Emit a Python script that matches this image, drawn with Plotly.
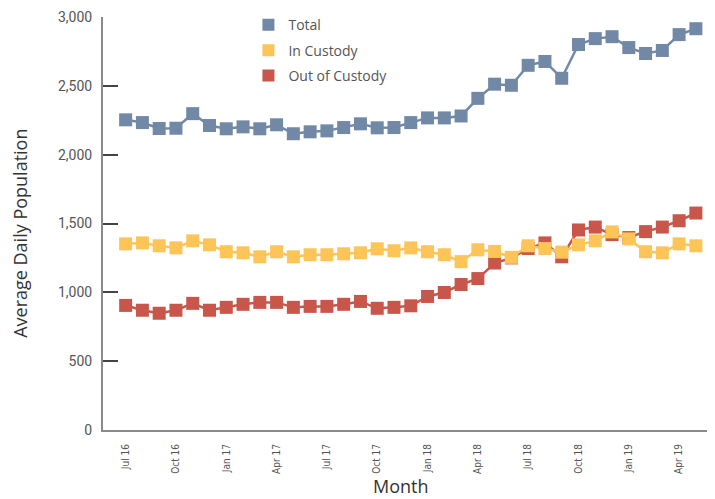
import plotly.graph_objects as go

months = ["Jul 16","Aug 16","Sep 16","Oct 16","Nov 16","Dec 16",
          "Jan 17","Feb 17","Mar 17","Apr 17","May 17","Jun 17",
          "Jul 17","Aug 17","Sep 17","Oct 17","Nov 17","Dec 17",
          "Jan 18","Feb 18","Mar 18","Apr 18","May 18","Jun 18",
          "Jul 18","Aug 18","Sep 18","Oct 18","Nov 18","Dec 18",
          "Jan 19","Feb 19","Mar 19","Apr 19","May 19"]
tick_labels = months[::3]

total = [2253,2233,2190,2192,2298,2212,2188,2202,2188,2217,2152,2166,
         2173,2197,2224,2195,2197,2233,2267,2267,2281,2409,2512,2504,
         2649,2677,2555,2800,2843,2857,2778,2735,2757,2872,2915]
in_custody = [1352,1359,1338,1323,1374,1345,1295,1287,1258,1295,1258,1273,
              1273,1280,1287,1316,1302,1323,1295,1273,1223,1309,1297,1254,
              1338,1318,1292,1345,1374,1439,1388,1295,1287,1352,1338]
out_custody = [905,870,848,870,920,870,891,913,927,927,891,898,
               898,913,934,884,891,902,970,999,1057,1100,1213,1250,
               1318,1359,1258,1453,1474,1419,1398,1441,1474,1520,1576]

series = [("Total", total, "#7189A6"),
          ("In Custody", in_custody, "#FDC457"),
          ("Out of Custody", out_custody, "#C9564B")]

fig = go.Figure()
# draw order: red first so the yellow series sits on top where they overlap
for name, vals, color in reversed(series):
    fig.add_trace(go.Scatter(
        x=months, y=vals, mode="lines+markers", name=name,
        line=dict(color=color, width=2.5),
        marker=dict(symbol="square", size=13, color=color),
        showlegend=False, hoverinfo="x+y+name"))

narrow = "Liberation Sans Narrow, DejaVu Sans Condensed, Roboto, sans-serif"
legend_font = dict(family="Open Sans, sans-serif", size=14, color="#555")
legend_names = ["legend", "legend2", "legend3"]
legend_layout = {}
for i, (name, vals, color) in enumerate(series):
    fig.add_trace(go.Scatter(
        x=[None], y=[None], mode="markers", name=name,
        marker=dict(symbol="square", size=12, color=color),
        showlegend=True, legend=legend_names[i]))
    legend_layout[legend_names[i]] = dict(
        x=0.238, xanchor="left", y=1.019 - i * 0.0615, yanchor="top",
        font=legend_font, bgcolor="rgba(0,0,0,0)", itemwidth=30)

title_font = dict(family="Open Sans, sans-serif", size=18, color="#333")

fig.update_layout(
    width=707, height=491,
    margin=dict(l=95, r=1, t=5, b=69),
    plot_bgcolor="white", paper_bgcolor="white",
    **legend_layout,
    xaxis=dict(
        type="category", automargin=False,
        range=[-1.35, 35.08],
        tickmode="array", tickvals=tick_labels, ticktext=tick_labels,
        tickangle=-90,
        tickfont=dict(family=narrow, size=10, color="#555"),
        showgrid=False, zeroline=False,
        showline=True, linecolor="#8a8a8a", linewidth=2,
        ticks="", ticklabelstandoff=8,
    ),
    yaxis=dict(
        range=[0, 3000], automargin=False,
        tickvals=[0, 500, 1000, 1500, 2000, 2500, 3000],
        tickformat=",",
        tickfont=dict(family="Roboto, sans-serif", size=14, color="#555"),
        showgrid=False, zeroline=False,
        showline=True, linecolor="#8a8a8a", linewidth=2,
        ticks="inside", ticklen=15, tickwidth=1.5, tickcolor="#444",
        ticklabelstandoff=6,
    ),
    annotations=[
        dict(text="Average Daily Population", xref="paper", yref="paper",
             x=-0.1358, y=0.475, xanchor="center", yanchor="middle",
             textangle=-90, showarrow=False, font=title_font),
        dict(text="Month", xref="paper", yref="paper",
             x=0.4877, y=-0.135, xanchor="center", yanchor="middle",
             showarrow=False, font=title_font),
    ],
)

fig.write_html("out.html")
